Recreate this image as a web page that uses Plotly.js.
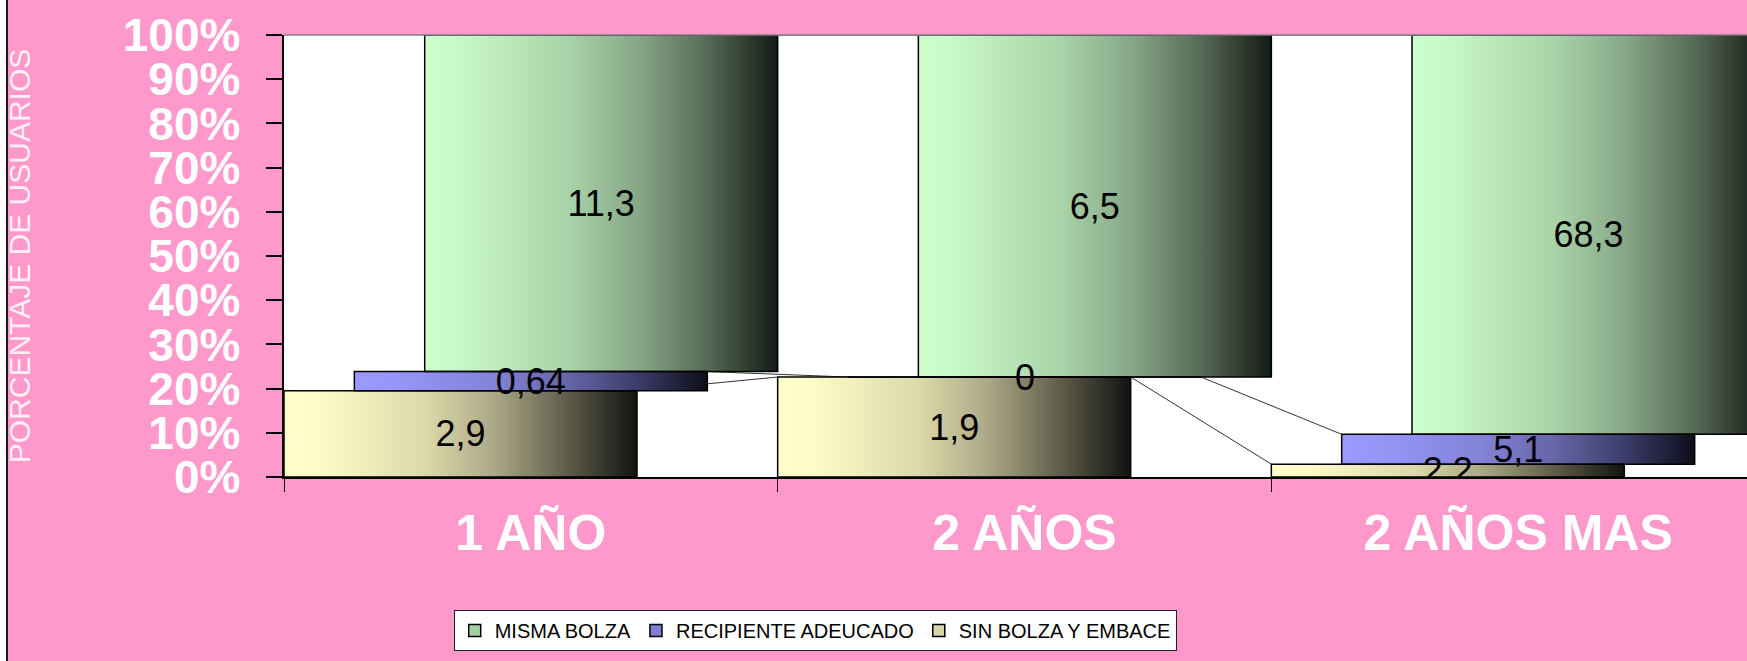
<!DOCTYPE html>
<html>
<head>
<meta charset="utf-8">
<script src="https://cdn.plot.ly/plotly-3.0.1.min.js"></script>
<style>html,body{margin:0;padding:0;background:#ff99cc;}#chart{width:1747px;height:661px;}</style>
</head>
<body>
<div id="chart"></div>
<script>
// ---- data ----
const categories = ['1 AÑO', '2 AÑOS', '2 AÑOS MAS'];
const seriesNames = ['MISMA BOLZA', 'RECIPIENTE ADEUCADO', 'SIN BOLZA Y EMBACE'];
const mismaBolza = [11.3, 6.5, 68.3];
const recipienteAdecuado = [0.64, 0, 5.1];
const sinBolzaYEmbace = [2.9, 1.9, 2.2];
const yTickValues = [0, 10, 20, 30, 40, 50, 60, 70, 80, 90, 100];
const yTickLabels = ['0%', '10%', '20%', '30%', '40%', '50%', '60%', '70%', '80%', '90%', '100%'];

// ---- style ----
const FONT = 'Liberation Sans, Arial, sans-serif';
const BAR_W = 0.715;
const PAD = '\u00a0\u200a';
const xPos = categories.map((c, i) => i);
// stack order bottom -> top
const stack = [
  {name: seriesNames[2], vals: sinBolzaYEmbace, off: -0.5,
   legend: '#d6d6a6',
   stops: [[0, '#ffffcc'], [0.1, '#fcfcc8'], [0.4, '#dcd9ab'], [0.6, '#aaa786'], [0.8, '#5f5d4a'], [1, '#121210']]},
  {name: seriesNames[1], vals: recipienteAdecuado, off: -0.3575,
   legend: '#7f7fd6',
   stops: [[0, '#9999ff'], [0.1, '#9797fa'], [0.4, '#8282d6'], [0.6, '#6666a9'], [0.8, '#3d3d6b'], [1, '#0d0d1a']]},
  {name: seriesNames[0], vals: mismaBolza, off: -0.215,
   legend: '#a3cfa3',
   stops: [[0, '#ccffcc'], [0.1, '#c8f8c8'], [0.4, '#a9d4a9'], [0.6, '#88a888'], [0.8, '#566b56'], [1, '#141a14']]}
];

const totals = categories.map((c, i) => stack.reduce((s, st) => s + st.vals[i], 0));
let cum = categories.map(() => 0);
stack.forEach(st => {
  st.base = cum.slice();
  st.pct = st.vals.map((v, i) => v / totals[i] * 100);
  cum = cum.map((b, i) => b + st.pct[i]);
  st.top = cum.slice();
});

function fmt(v) { return String(v).replace('.', ','); }

function gradientURI(stops) {
  const s = stops.map(([o, c]) => `<stop offset='${o}' stop-color='${c}'/>`).join('');
  const svg = `<svg xmlns='http://www.w3.org/2000/svg' width='200' height='100' viewBox='0 0 200 100' preserveAspectRatio='none'><defs><linearGradient id='g' x1='0' y1='0' x2='1' y2='0'>${s}</linearGradient></defs><rect width='200' height='100' fill='url(#g)'/></svg>`;
  return 'data:image/svg+xml;charset=utf-8,' + encodeURIComponent(svg);
}

const traces = [];
const images = [];
const shapes = [];
const annotations = [];

stack.forEach(st => {
  traces.push({
    type: 'bar',
    x: xPos,
    y: st.pct,
    base: st.base,
    offset: st.off,
    width: BAR_W,
    name: st.name,
    showlegend: false,
    text: st.vals.map(fmt),
    textposition: 'inside',
    insidetextanchor: 'middle',
    constraintext: 'none',
    textangle: 0,
    textfont: {family: FONT, size: 36, color: '#000'},
    insidetextfont: {family: FONT, size: 36, color: '#000'},
    marker: {color: 'rgba(0,0,0,0)', line: {color: '#000', width: 1.5}},
    hoverinfo: 'name+text'
  });
  const uri = gradientURI(st.stops);
  xPos.forEach((x, i) => {
    if (st.pct[i] <= 0) {
      // zero-height bar: Plotly does not draw its text, so label it here
      annotations.push({
        xref: 'x', yref: 'y', x: x + st.off + BAR_W / 2, y: st.base[i],
        text: fmt(st.vals[i]), showarrow: false,
        font: {family: FONT, size: 36, color: '#000'}, xanchor: 'center', yanchor: 'middle'
      });
      return;
    }
    images.push({
      source: uri, xref: 'x', yref: 'y',
      x: x + st.off, y: st.top[i],
      sizex: BAR_W, sizey: st.pct[i],
      xanchor: 'left', yanchor: 'top',
      sizing: 'stretch', layer: 'below'
    });
  });
  // series lines between consecutive categories
  for (let i = 0; i < xPos.length - 1; i++) {
    shapes.push({
      type: 'line', xref: 'x', yref: 'y', layer: 'below',
      x0: xPos[i] + st.off + BAR_W, y0: st.top[i],
      x1: xPos[i + 1] + st.off, y1: st.top[i + 1],
      line: {color: '#333333', width: 1}
    });
  }
});

// legend entries (in reference order)
[stack[2], stack[1], stack[0]].forEach(st => {
  traces.push({
    type: 'bar', x: [null], y: [null], name: st.name, showlegend: true,
    marker: {color: st.legend, line: {color: '#000', width: 1.5}},
    hoverinfo: 'skip'
  });
});

// frame decorations
shapes.push({type: 'line', xref: 'paper', yref: 'paper', x0: 0, x1: 1, y0: 1, y1: 1,
  line: {color: '#808080', width: 1.5}, layer: 'above'});
shapes.push({type: 'rect', xref: 'paper', yref: 'paper', xsizemode: 'pixel', ysizemode: 'pixel',
  xanchor: 0, yanchor: 0, x0: -284, x1: -278, y0: -190, y1: 480,
  fillcolor: '#ffffff', line: {width: 0}, layer: 'above'});
shapes.push({type: 'line', xref: 'paper', yref: 'paper', xsizemode: 'pixel', ysizemode: 'pixel',
  xanchor: 0, yanchor: 0, x0: -277, x1: -277, y0: -190, y1: 480,
  line: {color: '#1a1a1a', width: 2}, layer: 'above'});

const layout = {
  width: 1747, height: 661,
  margin: {l: 284, r: 0, t: 35, b: 184, pad: 0},
  paper_bgcolor: '#ff99cc',
  plot_bgcolor: '#ffffff',
  barmode: 'overlay',
  font: {family: FONT},
  showlegend: true,
  legend: {
    orientation: 'h', x: 0.116, xanchor: 'left', y: -0.301, yanchor: 'top',
    bgcolor: '#ffffff', bordercolor: '#222', borderwidth: 1,
    font: {family: FONT, size: 20, color: '#000'}, traceorder: 'normal'
  },
  xaxis: {
    range: [-0.5, 2.4635], automargin: false,
    tickmode: 'array', tickvals: xPos, ticktext: categories,
    ticks: '', ticklabelstandoff: 11,
    tickfont: {family: FONT, size: 50, color: '#ffffff', weight: 'bold'},
    showline: true, linecolor: '#000', linewidth: 1.5,
    showgrid: false, zeroline: false,
    minor: {tickmode: 'array', tickvals: xPos.map(v => v - 0.5),
            ticks: 'outside', ticklen: 13, tickcolor: '#000', tickwidth: 1, showgrid: false}
  },
  yaxis: {
    range: [0, 100], automargin: false,
    tickmode: 'array', tickvals: yTickValues, ticktext: yTickLabels.map(t => t + PAD),
    ticks: 'outside', ticklen: 16, tickcolor: '#000', tickwidth: 1.5,
    tickfont: {family: FONT, size: 46, color: '#ffffff', weight: 'bold'},
    showline: true, linecolor: '#000', linewidth: 1.5,
    showgrid: false, zeroline: false,
    title: {text: 'PORCENTAJE DE USUARIOS', standoff: 83,
            font: {family: FONT, size: 30, color: 'rgba(255,255,255,0.85)'}}
  },
  images: images,
  shapes: shapes,
  annotations: annotations
};

Plotly.newPlot('chart', traces, layout, {displayModeBar: false});
</script>
</body>
</html>
